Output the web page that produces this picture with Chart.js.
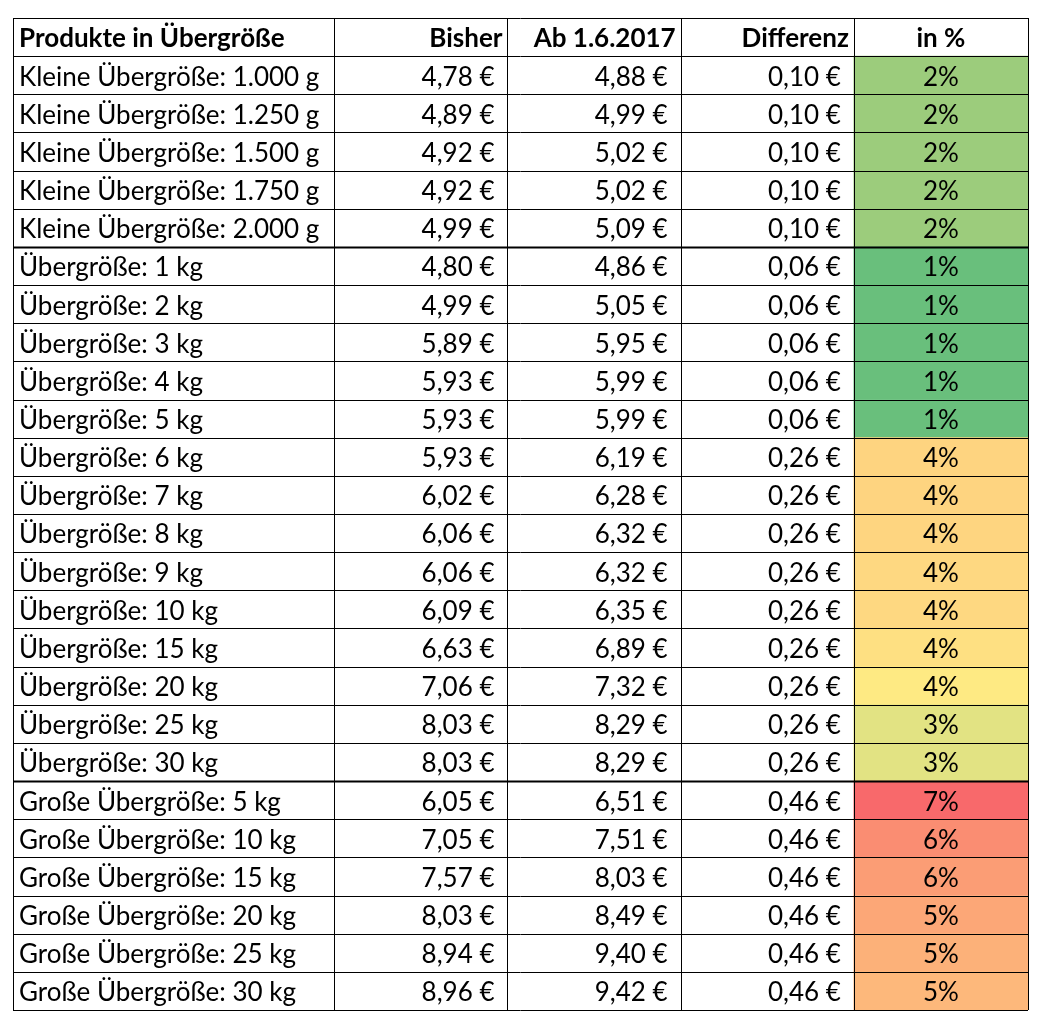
<!DOCTYPE html>
<html>
<head>
<meta charset="utf-8">
<script src="https://cdn.jsdelivr.net/npm/chart.js@4"></script>
<style>
  body { margin: 0; background: #fff; }
  #wrap { width: 1045px; height: 1023px; }
</style>
</head>
<body>
<div id="wrap"><canvas id="tbl"></canvas></div>
<script>
const headers = ['Produkte in Übergröße', 'Bisher', 'Ab 1.6.2017', 'Differenz', 'in %'];
const products = [
  'Kleine Übergröße: 1.000 g', 'Kleine Übergröße: 1.250 g', 'Kleine Übergröße: 1.500 g',
  'Kleine Übergröße: 1.750 g', 'Kleine Übergröße: 2.000 g',
  'Übergröße: 1 kg', 'Übergröße: 2 kg', 'Übergröße: 3 kg', 'Übergröße: 4 kg', 'Übergröße: 5 kg',
  'Übergröße: 6 kg', 'Übergröße: 7 kg', 'Übergröße: 8 kg', 'Übergröße: 9 kg', 'Übergröße: 10 kg',
  'Übergröße: 15 kg', 'Übergröße: 20 kg', 'Übergröße: 25 kg', 'Übergröße: 30 kg',
  'Große Übergröße: 5 kg', 'Große Übergröße: 10 kg', 'Große Übergröße: 15 kg',
  'Große Übergröße: 20 kg', 'Große Übergröße: 25 kg', 'Große Übergröße: 30 kg'
];
const bisher = [4.78, 4.89, 4.92, 4.92, 4.99, 4.80, 4.99, 5.89, 5.93, 5.93, 5.93, 6.02, 6.06, 6.06, 6.09,
  6.63, 7.06, 8.03, 8.03, 6.05, 7.05, 7.57, 8.03, 8.94, 8.96];
const neu = [4.88, 4.99, 5.02, 5.02, 5.09, 4.86, 5.05, 5.95, 5.99, 5.99, 6.19, 6.28, 6.32, 6.32, 6.35,
  6.89, 7.32, 8.29, 8.29, 6.51, 7.51, 8.03, 8.49, 9.40, 9.42];
const diff = [0.10, 0.10, 0.10, 0.10, 0.10, 0.06, 0.06, 0.06, 0.06, 0.06, 0.26, 0.26, 0.26, 0.26, 0.26,
  0.26, 0.26, 0.26, 0.26, 0.46, 0.46, 0.46, 0.46, 0.46, 0.46];
const pct = [2, 2, 2, 2, 2, 1, 1, 1, 1, 1, 4, 4, 4, 4, 4, 4, 4, 3, 3, 7, 6, 6, 5, 5, 5];
const heatColors = ['#9ccc7c', '#9ccc7c', '#9ccc7c', '#9ccc7c', '#9ccc7c',
  '#69bf7c', '#69bf7c', '#69bf7c', '#69bf7c', '#69bf7c',
  '#fed480', '#fed480', '#fed580', '#fed881', '#fed881', '#fee082', '#feea83', '#e2e383', '#e2e383',
  '#f8696b', '#fa8d72', '#fb9d75', '#fca777', '#fcb179', '#fdb87b'];
const groupEnds = [4, 18]; // thick line below these rows

// column edges on the x scale
const colEdges = [0, 321, 494, 667, 840, 1014];
const rowLabels = ['header'].concat(products);

const euro = v => v.toFixed(2).replace('.', ',') + ' €';

const tablePlugin = {
  id: 'tableText',
  afterDatasetsDraw(chart) {
    const ctx = chart.ctx;
    const x = chart.scales.x, y = chart.scales.y;
    const half = (y.getPixelForValue(1) - y.getPixelForValue(0)) / 2;
    const top = y.getPixelForValue(0) - half;
    const bottom = y.getPixelForValue(rowLabels.length - 1) + half;
    ctx.save();
    // grid
    ctx.strokeStyle = '#000';
    rowLabels.forEach((r, i) => {
      const yy = y.getPixelForValue(i) + half;
      ctx.lineWidth = groupEnds.includes(i - 1) ? 2 : 1;
      ctx.beginPath();
      ctx.moveTo(x.getPixelForValue(colEdges[0]), Math.round(yy) + 0.5);
      ctx.lineTo(x.getPixelForValue(colEdges[5]), Math.round(yy) + 0.5);
      ctx.stroke();
    });
    ctx.lineWidth = 1;
    ctx.beginPath();
    ctx.moveTo(x.getPixelForValue(colEdges[0]), Math.round(top) + 0.5);
    ctx.lineTo(x.getPixelForValue(colEdges[5]), Math.round(top) + 0.5);
    colEdges.forEach(e => {
      const xx = Math.round(x.getPixelForValue(e)) + 0.5;
      ctx.moveTo(xx, top);
      ctx.lineTo(xx, bottom);
    });
    ctx.stroke();
    // text
    ctx.fillStyle = '#000';
    ctx.textBaseline = 'middle';
    const cell = (txt, col, row, align, pad) => {
      const yy = y.getPixelForValue(row) + 2;
      ctx.textAlign = align;
      let xx;
      if (align === 'left') xx = x.getPixelForValue(colEdges[col]) + 6;
      else if (align === 'right') xx = x.getPixelForValue(colEdges[col + 1]) - (pad || 5);
      else xx = (x.getPixelForValue(colEdges[col]) + x.getPixelForValue(colEdges[col + 1])) / 2;
      ctx.fillText(txt, xx, yy);
    };
    ctx.font = 'bold 26px Lato';
    cell(headers[0], 0, 0, 'left');
    cell(headers[1], 1, 0, 'right');
    cell(headers[2], 2, 0, 'right');
    cell(headers[3], 3, 0, 'right');
    cell(headers[4], 4, 0, 'center');
    ctx.font = '26px Lato';
    products.forEach((p, i) => {
      const r = i + 1;
      cell(p, 0, r, 'left');
      cell(euro(bisher[i]), 1, r, 'right', 13);
      cell(euro(neu[i]), 2, r, 'right', 13);
      cell(euro(diff[i]), 3, r, 'right', 13);
      cell(pct[i] + '%', 4, r, 'center');
    });
    ctx.restore();
  }
};

new Chart(document.getElementById('tbl'), {
  type: 'bar',
  data: {
    labels: rowLabels,
    datasets: [{
      data: rowLabels.map((r, i) => i === 0 ? null : [colEdges[4], colEdges[5]]),
      backgroundColor: [null].concat(heatColors),
      barPercentage: 1,
      categoryPercentage: 1,
      borderWidth: 0
    }]
  },
  options: {
    indexAxis: 'y',
    responsive: true,
    maintainAspectRatio: false,
    animation: false,
    layout: { padding: { left: 13, right: 17, top: 18, bottom: 13 } },
    scales: {
      x: { type: 'linear', min: colEdges[0], max: colEdges[5], display: false },
      y: { display: false, offset: true }
    },
    plugins: { legend: { display: false }, tooltip: { enabled: false } }
  },
  plugins: [tablePlugin]
});
</script>
</body>
</html>
